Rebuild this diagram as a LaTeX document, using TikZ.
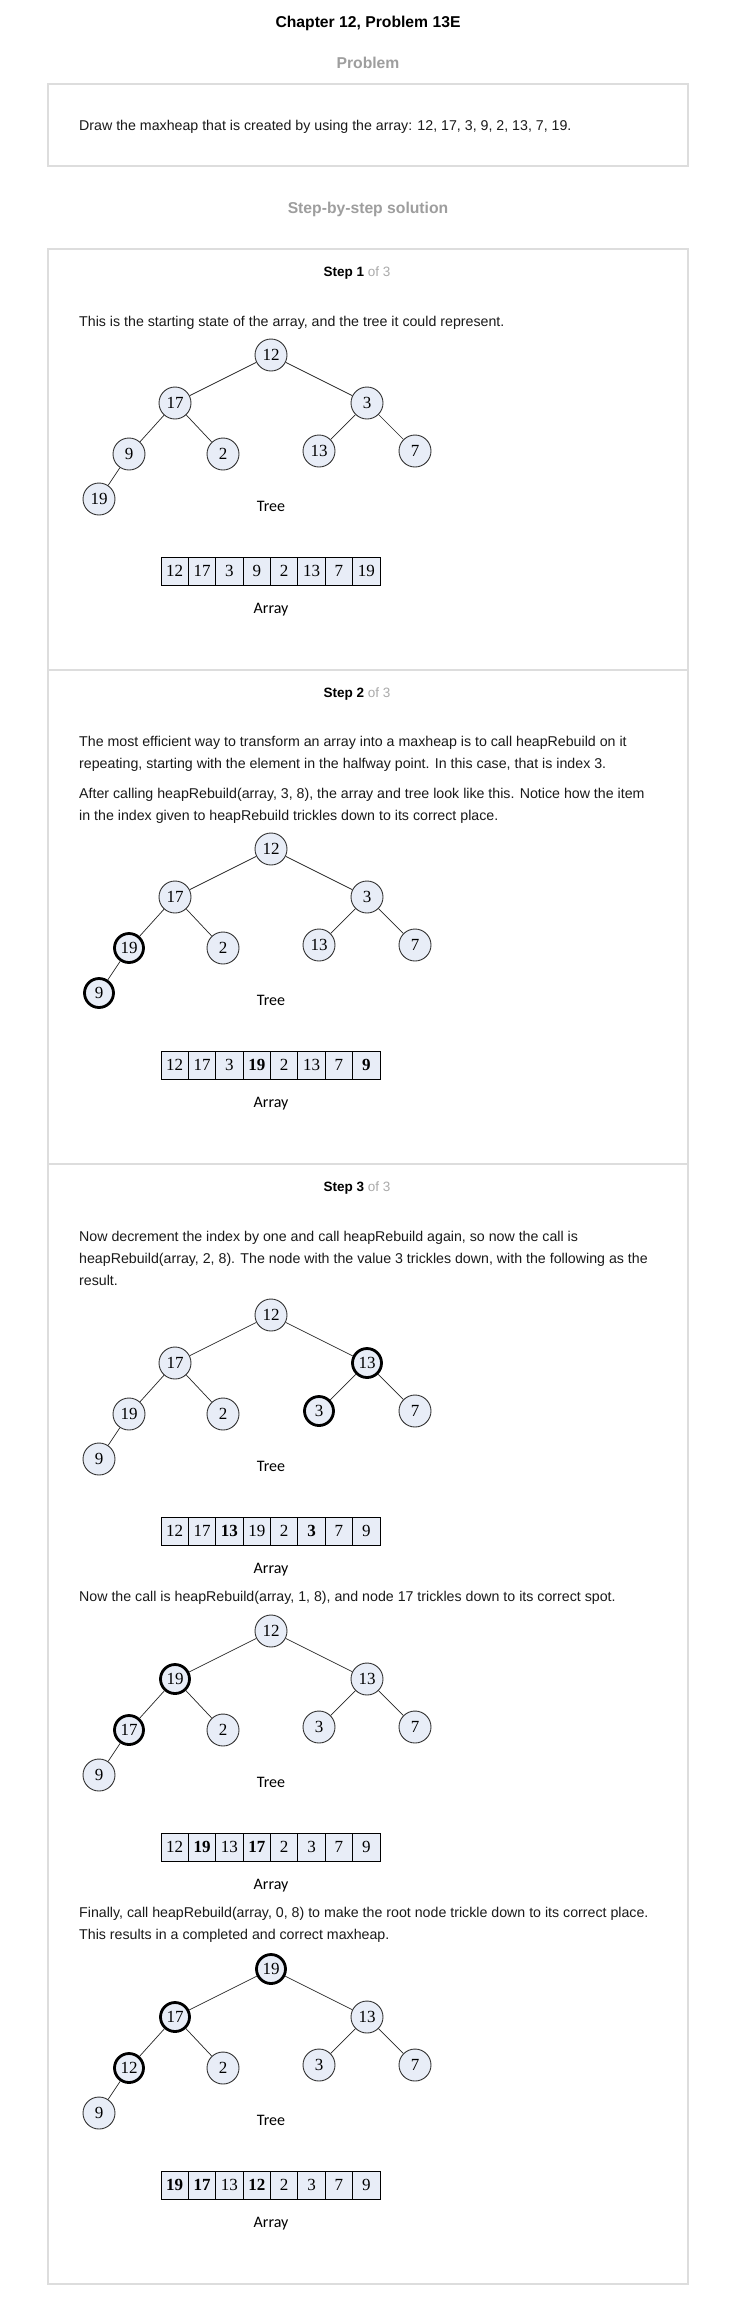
\documentclass[tikz,border=0pt]{standalone}
\usepackage{fontspec}
\setmainfont{Liberation Sans}
\newfontfamily\numfont{Liberation Serif}
\newfontfamily\lblfont{Carlito}
\definecolor{boxgray}{HTML}{DDDDDD}
\definecolor{headgray}{HTML}{9E9E9E}
\definecolor{nodefill}{HTML}{E8EDF7}
\definecolor{ofgray}{HTML}{AAAAAA}
\definecolor{textcol}{HTML}{1A1A1A}

\tikzset{
  hn/.style={circle, draw=black!80, line width=0.9pt, fill=nodefill, minimum size=32pt, inner sep=0pt, font=\numfont\fontsize{17}{17}\selectfont},
  hb/.style={hn, draw=black, line width=2.8pt, minimum size=29pt},
  edgeline/.style={draw=black!85, line width=0.7pt},
  an/.style={draw=black, line width=0.9pt, fill=nodefill, minimum width=27.375pt, minimum height=28pt, inner sep=0pt, font=\numfont\fontsize{17}{17}\selectfont},
  ab/.style={an, font=\numfont\bfseries\fontsize{17}{17}\selectfont},
  lbl/.style={anchor=base, inner sep=0pt, font=\lblfont\fontsize{16}{16}\selectfont},
  body/.style={anchor=base west, inner sep=0pt, text=textcol, font=\fontsize{14.2}{14.2}\selectfont},
  head/.style={anchor=base, inner sep=0pt, font=\bfseries\fontsize{15.7}{16}\selectfont},
  steplbl/.style={anchor=base, inner sep=0pt, font=\fontsize{13.5}{14}\selectfont},
  boxline/.style={draw=boxgray, line width=1.3pt}
}

\newcommand\heaptree[3]{%
  \foreach \v/\s [count=\i from 0] in {#3} {
    \pgfmathsetmacro\px{{271,175,367,129,223,319,415,99}[\i]}
    \pgfmathsetmacro\py{#2+{0,48,48,99,99,96,96,144}[\i]}
    \node[\s] (#1n\i) at (\px,\py) {\v};
  }
  \foreach \a/\b in {0/1,0/2,1/3,1/4,2/5,2/6,3/7}
    \draw[edgeline] (#1n\a) -- (#1n\b);
  \node[lbl] (#1tree) at (271,#2+156.5) {Tree};
}

\newcommand\heaparray[3]{%
  \foreach \v/\s [count=\i from 0] in {#3} {
    \pgfmathsetmacro\cx{161+27.375*(\i+0.5)}
    \node[\s] (#1c\i) at (\cx,#2+216) {\v};
  }
  \node[lbl] (#1arr) at (271,#2+258.5) {Array};
}

\begin{document}
\begin{tikzpicture}[x=1pt,y=-1pt]
\useasboundingbox (0,0) rectangle (738,2311);
\fill[white] (0,0) rectangle (738,2311);

% headings
\node[head] (title) at (368,27.3) {Chapter 12, Problem 13E};
\node[head, text=headgray] (probhead) at (368,68) {Problem};
\draw[boxline] (48,84) rectangle (688,166);
\node[body] (probtext) at (79,130) {Draw the maxheap that is created by using the array: 12, 17, 3, 9, 2, 13, 7, 19.};
\node[head, text=headgray] (solhead) at (368,213.6) {Step-by-step solution};

% step box
\draw[boxline] (48,249) rectangle (688,2284);
\draw[boxline] (48,670) -- (688,670);
\draw[boxline] (48,1164) -- (688,1164);

% Step 1
\node[steplbl] (s1) at (357,276) {\textbf{Step 1} \textcolor{ofgray}{of 3}};
\node[body] (s1t1) at (79,326) {This is the starting state of the array, and the tree it could represent.};
\heaptree{ta}{355}{12/hn,17/hn,3/hn,9/hn,2/hn,13/hn,7/hn,19/hn}
\heaparray{aa}{355}{12/an,17/an,3/an,9/an,2/an,13/an,7/an,19/an}

% Step 2
\node[steplbl] (s2) at (357,697) {\textbf{Step 2} \textcolor{ofgray}{of 3}};
\node[body] (s2t1) at (79,746) {The most efficient way to transform an array into a maxheap is to call heapRebuild on it};
\node[body] (s2t2) at (79,768) {repeating, starting with the element in the halfway point. In this case, that is index 3.};
\node[body] (s2t3) at (79,798) {After calling heapRebuild(array, 3, 8), the array and tree look like this. Notice how the item};
\node[body] (s2t4) at (79,820) {in the index given to heapRebuild trickles down to its correct place.};
\heaptree{tb}{849}{12/hn,17/hn,3/hn,19/hb,2/hn,13/hn,7/hn,9/hb}
\heaparray{ab}{849}{12/an,17/an,3/an,19/ab,2/an,13/an,7/an,9/ab}

% Step 3
\node[steplbl] (s3) at (357,1191) {\textbf{Step 3} \textcolor{ofgray}{of 3}};
\node[body] (s3t1) at (79,1241) {Now decrement the index by one and call heapRebuild again, so now the call is};
\node[body] (s3t2) at (79,1263) {heapRebuild(array, 2, 8). The node with the value 3 trickles down, with the following as the};
\node[body] (s3t3) at (79,1285) {result.};
\heaptree{tc}{1315}{12/hn,17/hn,13/hb,19/hn,2/hn,3/hb,7/hn,9/hn}
\heaparray{ac}{1315}{12/an,17/an,13/ab,19/an,2/an,3/ab,7/an,9/an}

\node[body] (s3t4) at (79,1601) {Now the call is heapRebuild(array, 1, 8), and node 17 trickles down to its correct spot.};
\heaptree{td}{1631}{12/hn,19/hb,13/hn,17/hb,2/hn,3/hn,7/hn,9/hn}
\heaparray{ad}{1631}{12/an,19/ab,13/an,17/ab,2/an,3/an,7/an,9/an}

\node[body] (s3t5) at (79,1917) {Finally, call heapRebuild(array, 0, 8) to make the root node trickle down to its correct place.};
\node[body] (s3t6) at (79,1939) {This results in a completed and correct maxheap.};
\heaptree{te}{1969}{19/hb,17/hb,13/hn,12/hb,2/hn,3/hn,7/hn,9/hn}
\heaparray{ae}{1969}{19/ab,17/ab,13/an,12/ab,2/an,3/an,7/an,9/an}
\end{tikzpicture}
\end{document}
